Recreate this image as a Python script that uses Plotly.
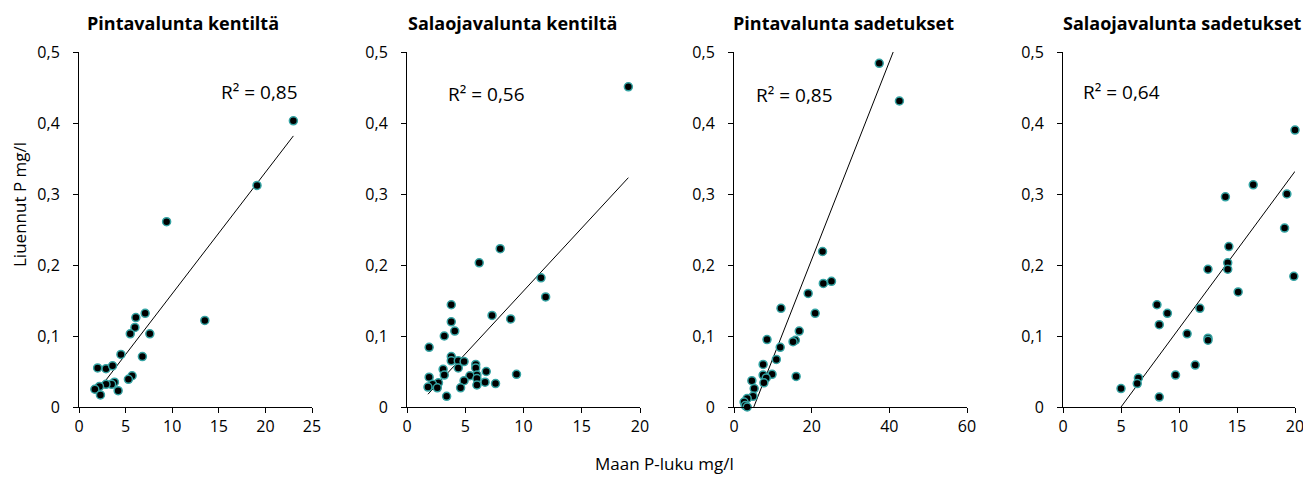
import plotly.graph_objects as go

# ---------------- data ----------------
titles = ["Pintavalunta kentiltä", "Salaojavalunta kentiltä",
          "Pintavalunta sadetukset", "Salaojavalunta sadetukset"]
r2_labels = ["R² = 0,85", "R² = 0,56", "R² = 0,85", "R² = 0,64"]
x_max = [25, 20, 60, 20]
x_dtick = [5, 5, 20, 5]

p1_x = [23.0, 19.1, 9.4, 13.5, 7.1, 6.1, 6.0, 5.5, 7.6, 4.5, 6.8, 2.0, 2.9, 3.6,
        5.7, 5.3, 3.8, 3.5, 2.9, 2.2, 1.7, 4.2, 2.3]
p1_y = [0.403, 0.312, 0.261, 0.122, 0.132, 0.126, 0.112, 0.103, 0.103, 0.074, 0.071,
        0.055, 0.054, 0.058, 0.044, 0.039, 0.035, 0.032, 0.032, 0.029, 0.025, 0.023, 0.017]

p2_x = [19.0, 8.0, 6.2, 11.5, 11.9, 3.8, 7.3, 8.9, 3.8, 4.1, 3.2, 1.9, 3.8, 3.8, 4.4,
        4.9, 5.9, 5.9, 4.4, 3.1, 6.8, 9.4, 3.2, 6.0, 5.4, 1.9, 6.0, 4.9, 6.7, 7.6, 6.0,
        2.7, 2.2, 1.8, 2.6, 4.6, 3.4]
p2_y = [0.451, 0.223, 0.203, 0.182, 0.155, 0.144, 0.129, 0.124, 0.120, 0.107, 0.100,
        0.084, 0.071, 0.065, 0.065, 0.064, 0.060, 0.055, 0.055, 0.053, 0.050, 0.046,
        0.045, 0.045, 0.044, 0.042, 0.040, 0.037, 0.035, 0.033, 0.031, 0.034, 0.032,
        0.028, 0.027, 0.027, 0.015]

p3_x = [37.4, 42.6, 22.8, 25.1, 23.0, 19.1, 20.9, 12.1, 16.8, 8.5, 15.8, 15.2, 11.9,
        10.9, 7.5, 9.8, 16.0, 7.5, 8.3, 7.7, 4.6, 5.2, 4.9, 3.4, 2.6, 2.9, 3.4]
p3_y = [0.484, 0.431, 0.219, 0.177, 0.174, 0.160, 0.132, 0.139, 0.107, 0.095, 0.094,
        0.092, 0.084, 0.067, 0.060, 0.046, 0.043, 0.045, 0.041, 0.034, 0.037, 0.026,
        0.015, 0.012, 0.007, 0.002, 0.0]

p4_x = [20.0, 16.4, 19.3, 14.0, 19.1, 14.3, 14.2, 14.2, 12.5, 19.9, 15.1, 8.1, 11.8,
        9.0, 8.3, 10.7, 12.5, 12.5, 11.4, 9.7, 6.5, 6.4, 5.0, 8.3]
p4_y = [0.390, 0.313, 0.300, 0.296, 0.252, 0.226, 0.203, 0.194, 0.194, 0.184, 0.162,
        0.144, 0.139, 0.132, 0.116, 0.103, 0.097, 0.094, 0.059, 0.045, 0.041, 0.033,
        0.026, 0.014]

# linear trend lines: slope, intercept, x start, x end
trend_slope = [0.0171, 0.01773, 0.01393, 0.02213]
trend_intercept = [-0.0115, -0.0139, -0.071, -0.1107]
trend_x0 = [2.6, 1.8, 5.1, 5.0]
trend_x1 = [23.0, 19.0, 41.0, 20.0]

# R² label positions in data coords
r2_x = [19.4, 6.8, 15.5, 5.0]
r2_y = [0.444, 0.441, 0.439, 0.444]

xs = [p1_x, p2_x, p3_x, p4_x]
ys = [p1_y, p2_y, p3_y, p4_y]

# ---------------- layout ----------------
OFF = 8  # page body margin offset
W, H = 1311 - OFF, 477 - OFF
axis_left_px = [79, 407, 734, 1063]
axis_right_px = [312, 640, 967, 1295]
y0_px, y1_px = 407, 52
title_cx_px = [183, 512, 843, 1182]


def px_x(p):
    return (p - OFF) / W


def px_y(p):
    return 1 - (p - OFF) / H


FONT = "'Open Sans', Lato, sans-serif"

fig = go.Figure()
layout = dict(
    width=W, height=H,
    margin=dict(l=0, r=0, t=0, b=0, autoexpand=False),
    paper_bgcolor="white", plot_bgcolor="white",
    showlegend=False,
    separators=", ",
    font=dict(family=FONT, size=16, color="black"),
)
annotations = []
for i in range(4):
    xa = "xaxis" if i == 0 else f"xaxis{i+1}"
    ya = "yaxis" if i == 0 else f"yaxis{i+1}"
    xref = "x" if i == 0 else f"x{i+1}"
    yref = "y" if i == 0 else f"y{i+1}"
    layout[xa] = dict(
        domain=[px_x(axis_left_px[i]), px_x(axis_right_px[i])],
        range=[0, x_max[i]], dtick=x_dtick[i], tick0=0,
        showgrid=False, zeroline=False, showline=True, linecolor="black", linewidth=1,
        ticks="outside", ticklen=5, tickcolor="black", tickwidth=1,
        tickfont=dict(size=16), anchor=yref,
    )
    layout[ya] = dict(
        domain=[px_y(y0_px), px_y(y1_px)],
        range=[0, 0.5], dtick=0.1, tick0=0,
        showgrid=False, zeroline=False, showline=True, linecolor="black", linewidth=1,
        ticks="outside", ticklen=5, tickcolor="black", tickwidth=1,
        ticklabelstandoff=10,
        tickfont=dict(size=16), anchor=xref,
    )
    tx = [trend_x0[i], trend_x1[i]]
    ty = [trend_slope[i] * v + trend_intercept[i] for v in tx]
    fig.add_trace(go.Scatter(
        x=tx, y=ty, mode="lines", line=dict(color="black", width=1),
        xaxis=xref, yaxis=yref, hoverinfo="skip", cliponaxis=False))
    fig.add_trace(go.Scatter(
        x=xs[i], y=ys[i], mode="markers",
        marker=dict(size=8, color="black", line=dict(color="#34a3a3", width=1.5)),
        xaxis=xref, yaxis=yref, cliponaxis=False))
    annotations.append(dict(
        x=r2_x[i], y=r2_y[i], xref=xref, yref=yref, text=r2_labels[i],
        xanchor="center", yanchor="middle",
        showarrow=False, font=dict(size=19, family=FONT)))
    annotations.append(dict(
        x=px_x(title_cx_px[i]), y=px_y(23), xref="paper", yref="paper",
        text=f"<b>{titles[i]}</b>", showarrow=False,
        xanchor="center", yanchor="middle",
        font=dict(size=18, family=FONT)))

annotations.append(dict(
    x=px_x(664), y=px_y(463), xref="paper", yref="paper", text="Maan P-luku mg/l",
    xanchor="center", yanchor="middle",
    showarrow=False, font=dict(size=17, family=FONT)))
annotations.append(dict(
    x=px_x(19), y=px_y(205), xref="paper", yref="paper", text="Liuennut P mg/l",
    xanchor="center", yanchor="middle",
    showarrow=False, textangle=-90, font=dict(size=17, family=FONT)))

layout["annotations"] = annotations
fig.update_layout(**layout)
fig.write_html("out.html")
